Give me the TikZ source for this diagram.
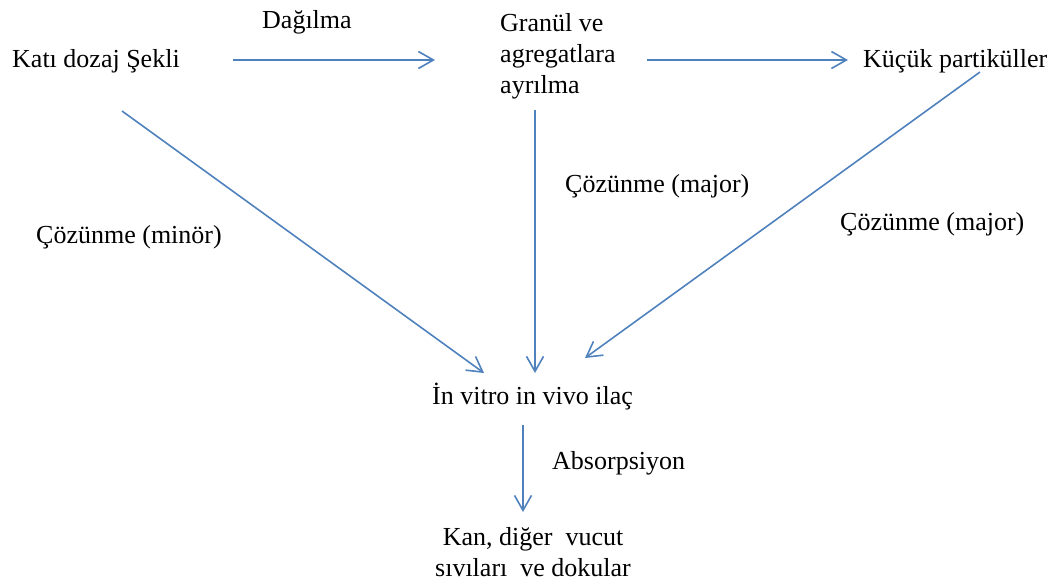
\documentclass[tikz,border=0pt]{standalone}
\usepackage{fontspec}
\setmainfont{Liberation Serif}
\usetikzlibrary{arrows.meta}
\definecolor{arr}{RGB}{79,129,189}
\begin{document}
\begin{tikzpicture}[x=1pt,y=-1pt,
  lbl/.style={inner sep=0pt, font=\fontsize{26}{31}\selectfont},
  conn/.style={draw=arr, line width=1.6pt, -{Straight Barb[length=15pt,width=17pt]}}]
\useasboundingbox (0,0) rectangle (1059,584);
\node[lbl, anchor=base west] (kati) at (12,67) {Katı dozaj Şekli};
\node[lbl, anchor=base west] (dag) at (262,28) {Dağılma};
\node[lbl, anchor=north west, align=left] (gran) at (500,13) {Granül ve\\agregatlara\\ayrılma};
\node[lbl, anchor=base west] (kucuk) at (863,67) {Küçük partiküller};
\node[lbl, anchor=base west] (cozmid) at (565,192) {Çözünme (major)};
\node[lbl, anchor=base west] (cozleft) at (36,243) {Çözünme (minör)};
\node[lbl, anchor=base west] (cozright) at (840,230) {Çözünme (major)};
\node[lbl, anchor=base west] (invitro) at (432,404) {İn vitro in vivo ilaç};
\node[lbl, anchor=base west] (abs) at (552,469) {Absorpsiyon};
\node[lbl, anchor=north, align=center] (kan) at (533,527) {Kan, diğer~ vucut\\sıvıları~ ve dokular};
% connector end points
\coordinate (k1) at (233,60);
\coordinate (g1) at (435,60);
\coordinate (g2) at (647,60);
\coordinate (p1) at (848,60);
\coordinate (k2) at (122,111);
\coordinate (i1) at (484,373);
\coordinate (g3) at (535,110);
\coordinate (i2) at (535,373);
\coordinate (p2) at (980,72);
\coordinate (i3) at (585,358);
\coordinate (i4) at (523,425);
\coordinate (b1) at (523,512);
\draw[conn] (k1) -- (g1);
\draw[conn] (g2) -- (p1);
\draw[conn] (k2) -- (i1);
\draw[conn] (g3) -- (i2);
\draw[conn] (p2) -- (i3);
\draw[conn] (i4) -- (b1);
\end{tikzpicture}
\end{document}
